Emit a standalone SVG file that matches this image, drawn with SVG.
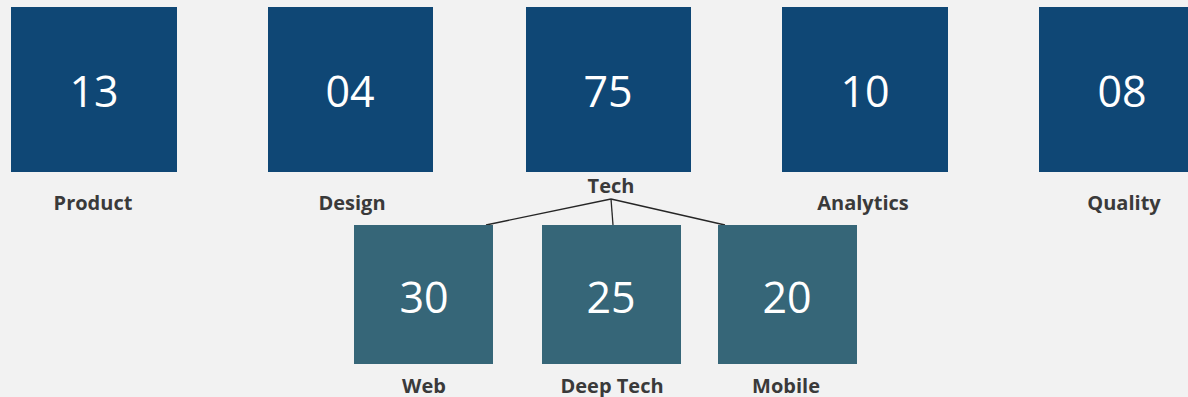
<svg xmlns="http://www.w3.org/2000/svg" width="1188" height="397" viewBox="0 0 1188 397">
<style>
.top{fill:#0F4775}
.sub{fill:#366678}
.num{font-family:"Open Sans","Liberation Sans",sans-serif;font-size:43px;fill:#ffffff;text-anchor:middle}
.lbl{font-family:"Open Sans","Liberation Sans",sans-serif;font-size:20px;font-weight:bold;fill:#3a3a3a;text-anchor:middle}
.conn{stroke:#262626;stroke-width:1.3;fill:none}
</style>
<rect width="1188" height="397" fill="#F2F2F2"/>
<g id="connectors">
<line class="conn" x1="611" y1="199" x2="486" y2="225"/>
<line class="conn" x1="611" y1="199" x2="613" y2="225"/>
<line class="conn" x1="611" y1="199" x2="725" y2="225"/>
</g>
<g id="product"><rect class="top" x="11" y="7" width="166" height="165"/><text class="num" x="94" y="107">13</text><text class="lbl" x="93" y="210">Product</text></g>
<g id="design"><rect class="top" x="268" y="7" width="165" height="165"/><text class="num" x="350" y="107">04</text><text class="lbl" x="352" y="210">Design</text></g>
<g id="tech"><rect class="top" x="526" y="7" width="165" height="165"/><text class="num" x="608" y="107">75</text><text class="lbl" x="611" y="193">Tech</text></g>
<g id="analytics"><rect class="top" x="782" y="7" width="166" height="165"/><text class="num" x="865" y="107">10</text><text class="lbl" x="863" y="210">Analytics</text></g>
<g id="quality"><rect class="top" x="1039" y="7" width="166" height="165"/><text class="num" x="1122" y="107">08</text><text class="lbl" x="1124" y="210">Quality</text></g>
<g id="web"><rect class="sub" x="354" y="225" width="139" height="139"/><text class="num" x="424" y="313">30</text><text class="lbl" x="424" y="393">Web</text></g>
<g id="deeptech"><rect class="sub" x="542" y="225" width="139" height="139"/><text class="num" x="611" y="313">25</text><text class="lbl" x="612" y="393">Deep Tech</text></g>
<g id="mobile"><rect class="sub" x="718" y="225" width="139" height="139"/><text class="num" x="787" y="313">20</text><text class="lbl" x="786" y="393">Mobile</text></g>
</svg>
